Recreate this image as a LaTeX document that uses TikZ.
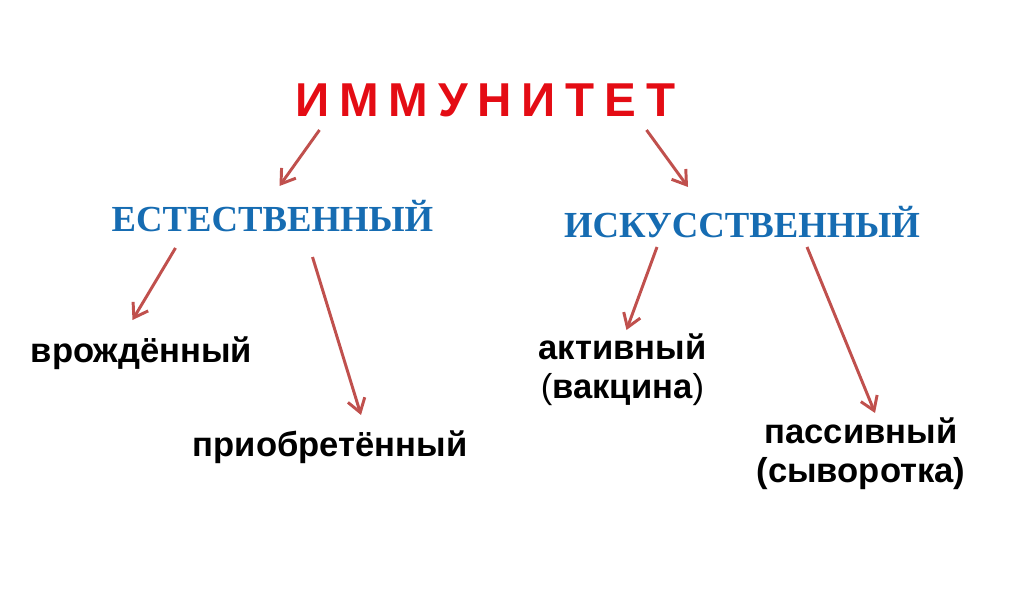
\documentclass[tikz,border=0pt]{standalone}
\usepackage{fontspec}
\setmainfont{Liberation Sans}
\newfontfamily\timesfont{Liberation Serif}
\usetikzlibrary{arrows.meta,calc}
\definecolor{titlered}{RGB}{228,12,20}
\definecolor{kindblue}{RGB}{22,108,178}
\definecolor{arrowred}{RGB}{192,80,77}
\tikzset{>={Straight Barb[length=3.3mm,width=4.4mm]},
  arr/.style={->,draw=arrowred,line width=2.1pt},
  kind/.style={font=\timesfont\bfseries\fontsize{26.1}{28}\selectfont,text=kindblue},
  sort/.style={font=\bfseries\fontsize{24.6}{27.5}\selectfont,align=center}}
\newcommand{\tgap}{\hspace{7pt}}

\begin{document}
\begin{tikzpicture}[x=0.025cm,y=-0.025cm,every node/.style={inner sep=0pt,anchor=base}]
\useasboundingbox (0,0) rectangle (1010,590);
\node (title) [font=\bfseries\fontsize{33.8}{34}\selectfont,text=titlered] at (485.5,117)
  {И\tgap М\tgap М\tgap У\tgap Н\tgap И\tgap Т\tgap Е\tgap Т};
\node (nat) [kind] at (272.5,232) {ЕСТЕСТВЕННЫЙ};
\node (art) [kind] at (742,238) {ИСКУССТВЕННЫЙ};
\node (innate) [sort] at (141.5,362) {врождённый};
\node (acq) [sort] at (330,456) {приобретённый};
\node (act) [sort] at (622.5,398) {активный\\{\mdseries(}вакцина{\mdseries)}};
\node (pas) [sort] at (861,482) {пассивный\\(сыворотка)};

\draw[arr] ($(title.base)+(-166,13)$) -- ($(nat.base)+(7,-46)$);
\draw[arr] ($(title.base)+(161,13)$) -- ($(art.base)+(-54,-51)$);
\draw[arr] ($(nat.base)+(-97,16)$) -- ($(innate.base)+(-9,-42)$);
\draw[arr] ($(nat.base)+(40,25)$) -- ($(acq.base)+(31,-41)$);
\draw[arr] ($(art.base)+(-85,9)$) -- ($(act.base)+(4,-68)$);
\draw[arr] ($(art.base)+(65,9)$) -- ($(pas.base)+(14,-69)$);
\end{tikzpicture}
\end{document}
